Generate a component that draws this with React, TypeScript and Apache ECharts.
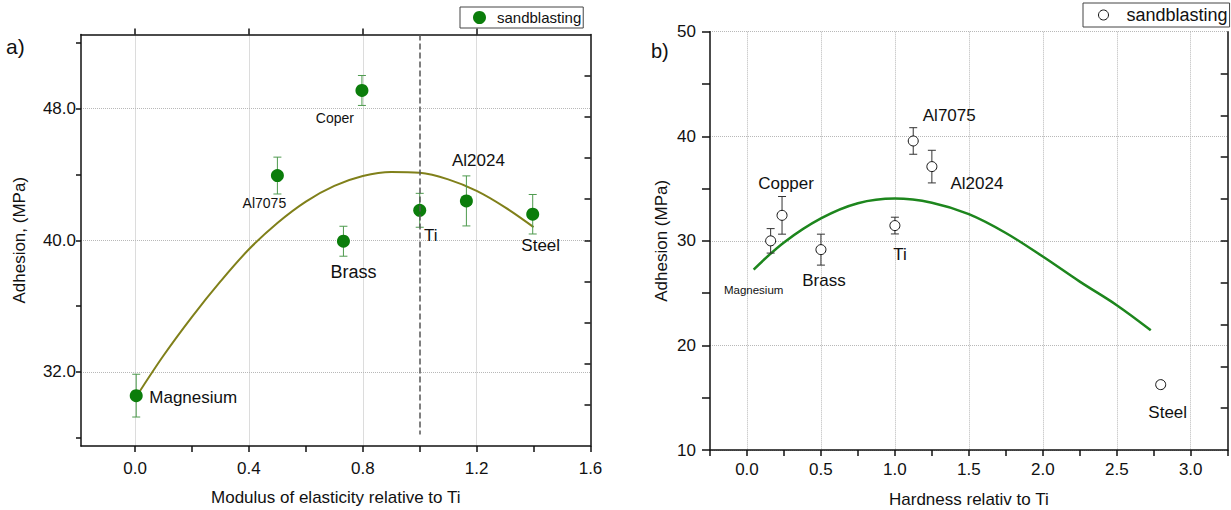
import React, { useEffect, useRef } from 'react';
import * as echarts from 'echarts';

const FONT = '"Liberation Sans", Arial, sans-serif';
const seriesName = 'sandblasting';

// ---------- Panel a) ----------
const materialsA = ['Magnesium', 'Al7075', 'Brass', 'Coper', 'Ti', 'Al2024', 'Steel'];
const modulusA = [0.004, 0.5, 0.732, 0.797, 1.0, 1.164, 1.397];
const adhesionA = [30.56, 43.93, 39.94, 49.1, 41.82, 42.39, 41.58];
const errorA = [1.3, 1.12, 0.91, 0.91, 1.03, 1.52, 1.2];
// fitted curve
const fitXA = [0.008, 0.1, 0.2, 0.3, 0.4, 0.5, 0.6, 0.7, 0.8, 0.9, 1.0, 1.1, 1.2, 1.3, 1.4];
const fitYA = [30.6, 33.0, 35.35, 37.5, 39.45, 41.05, 42.35, 43.3, 43.9, 44.15, 44.1, 43.7, 43.0, 42.0, 40.8];
const xTicksA = [0, 0.2, 0.4, 0.6, 0.8, 1.0, 1.2, 1.4, 1.6];
const xLabelsA = [0, 0.4, 0.8, 1.2, 1.6];
const xGridA = [0, 0.4, 0.8, 1.2];
const yTicksA = [28, 32, 36, 40, 44, 48, 52];
const yLabelsA = [32, 40, 48];
const yRightTicksA = [30, 32.5, 35, 37.5, 40, 42.5, 45, 47.5, 50];
const refLineA = 1.0;

// ---------- Panel b) ----------
const materialsB = ['Magnesium', 'Copper', 'Brass', 'Ti', 'Al7075', 'Al2024', 'Steel'];
const hardnessB = [0.16, 0.237, 0.5, 1.0, 1.124, 1.25, 2.797];
const adhesionB = [30.0, 32.44, 29.16, 31.46, 39.55, 37.1, 16.25];
const errorB = [1.17, 1.8, 1.48, 0.8, 1.27, 1.56, 0.3];
// fitted curve
const fitXB = [0.045, 0.25, 0.5, 0.75, 1.0, 1.25, 1.5, 1.75, 2.0, 2.25, 2.5, 2.73];
const fitYB = [27.25, 29.85, 32.15, 33.6, 34.05, 33.65, 32.55, 30.75, 28.5, 26.1, 23.85, 21.45];
const xTicksB = [-0.25, 0, 0.25, 0.5, 0.75, 1.0, 1.25, 1.5, 1.75, 2.0, 2.25, 2.5, 2.75, 3.0, 3.25];
const xLabelsB = [0, 0.5, 1.0, 1.5, 2.0, 2.5, 3.0];
const yRightTicksB = [14, 18, 22, 26, 30, 34, 38, 42, 46];

// label placement styles (offset from the point, px) – not data
const labelStyleA = [
  { dx: 57, dy: 2, size: 17 },
  { dx: -13, dy: 27, size: 14 },
  { dx: 10, dy: 31, size: 18 },
  { dx: -27, dy: 28, size: 14 },
  { dx: 11, dy: 25, size: 17 },
  { dx: 12, dy: -40, size: 17 },
  { dx: 8, dy: 31, size: 17 },
];
const labelStyleB = [
  { dx: -17, dy: 49, size: 11.5 },
  { dx: 4, dy: -32, size: 17 },
  { dx: 3, dy: 31, size: 17 },
  { dx: 5, dy: 29, size: 17 },
  { dx: 36, dy: -25, size: 17 },
  { dx: 45, dy: 17, size: 17 },
  { dx: 7, dy: 28, size: 17 },
];

const AXIS_COLOR = '#111';
const GRID_LINE = { type: 'dotted', color: '#b8b8b8', width: 1 };

function errorBarRenderer(color: string, halfCap: number) {
  return (params: any, api: any) => {
    const x = api.value(0);
    const y = api.value(1);
    const e = api.value(2);
    const top = api.coord([x, y + e]);
    const bot = api.coord([x, y - e]);
    const style = { stroke: color, lineWidth: 1 };
    return {
      type: 'group',
      children: [
        { type: 'line', shape: { x1: top[0], y1: top[1], x2: bot[0], y2: bot[1] }, style },
        { type: 'line', shape: { x1: top[0] - halfCap, y1: top[1], x2: top[0] + halfCap, y2: top[1] }, style },
        { type: 'line', shape: { x1: bot[0] - halfCap, y1: bot[1], x2: bot[0] + halfCap, y2: bot[1] }, style },
      ],
    };
  };
}

const tickLabelStyle = { fontSize: 17, color: AXIS_COLOR, fontFamily: FONT };
const nameStyle = { fontSize: 17, color: AXIS_COLOR, fontFamily: FONT };
const axisLineStyle = { show: true, onZero: false, lineStyle: { color: AXIS_COLOR, width: 1.5 } };

export default function App() {
  const ref = useRef<HTMLDivElement>(null);

  useEffect(() => {
    if (!ref.current) return;
    const chart = echarts.init(ref.current, undefined, { renderer: 'svg' });

    const option: any = {
      animation: false,
      backgroundColor: '#fff',
      textStyle: { fontFamily: FONT },
      grid: [
        { left: 81, top: 34.5, width: 509.5, height: 411.5, outerBoundsMode: 'none', containLabel: false },
        { left: 710, top: 31.7, width: 517.7, height: 418.3, outerBoundsMode: 'none', containLabel: false },
      ],
      legend: [
        {
          data: [{ name: seriesName, icon: 'circle', itemStyle: { color: '#0b7d0b' } }],
          left: 460,
          top: 7,
          itemWidth: 13,
          itemHeight: 13,
          padding: [3, 2, 3, 13],
          borderColor: '#444',
          borderWidth: 1,
          borderRadius: 0,
          selectedMode: false,
          textStyle: { fontSize: 15, lineHeight: 15, color: AXIS_COLOR, fontFamily: FONT, padding: [0, 0, 0, 6] },
        },
        {
          data: [{ name: seriesName, icon: 'circle', itemStyle: { color: '#fff', borderColor: '#111', borderWidth: 1 } }],
          left: 1083,
          top: 3,
          itemWidth: 10,
          itemHeight: 10,
          padding: [3, 2, 3, 15],
          borderColor: '#444',
          borderWidth: 1,
          borderRadius: 0,
          selectedMode: false,
          textStyle: { fontSize: 18, lineHeight: 18, color: AXIS_COLOR, fontFamily: FONT, padding: [0, 0, 0, 13] },
        },
      ],
      xAxis: [
        {
          gridIndex: 0,
          type: 'value',
          position: 'bottom',
          min: -0.19,
          max: 1.6,
          axisLine: axisLineStyle,
          axisTick: { show: true, customValues: xTicksA, length: 6, inside: false, lineStyle: { color: AXIS_COLOR, width: 1.5 } },
          axisLabel: { customValues: xLabelsA, formatter: (v: number) => v.toFixed(1), margin: 14, ...tickLabelStyle },
          splitLine: { show: false },
          name: 'Modulus of elasticity relative to Ti',
          nameLocation: 'middle',
          nameGap: 43,
          nameTextStyle: nameStyle,
        },
        {
          gridIndex: 0,
          type: 'value',
          position: 'top',
          min: -0.19,
          max: 1.6,
          axisLine: axisLineStyle,
          axisTick: { show: true, customValues: xGridA, length: 6, inside: false, lineStyle: { color: AXIS_COLOR, width: 1.5 } },
          axisLabel: { show: false },
          splitLine: { show: true, lineStyle: GRID_LINE },
        },
        {
          gridIndex: 1,
          type: 'value',
          position: 'bottom',
          min: -0.25,
          max: 3.25,
          axisLine: axisLineStyle,
          axisTick: { show: true, customValues: xTicksB, length: 6, inside: false, lineStyle: { color: AXIS_COLOR, width: 1.5 } },
          axisLabel: { customValues: xLabelsB, formatter: (v: number) => v.toFixed(1), margin: 11, ...tickLabelStyle },
          splitLine: { show: false },
          name: 'Hardness relativ to Ti',
          nameLocation: 'middle',
          nameGap: 41,
          nameTextStyle: nameStyle,
        },
        {
          gridIndex: 1,
          type: 'value',
          position: 'top',
          min: -0.25,
          max: 3.25,
          axisLine: { show: false },
          axisTick: { show: false, customValues: xLabelsB },
          axisLabel: { show: false },
          splitLine: { show: true, lineStyle: GRID_LINE },
        },
      ],
      yAxis: [
        {
          gridIndex: 0,
          type: 'value',
          position: 'left',
          min: 27.5,
          max: 52.5,
          axisLine: axisLineStyle,
          axisTick: { show: true, customValues: yTicksA, length: 5, inside: false, lineStyle: { color: AXIS_COLOR, width: 1.5 } },
          axisLabel: { customValues: yLabelsA, formatter: (v: number) => v.toFixed(1), margin: 5, ...tickLabelStyle },
          splitLine: { show: false },
          name: 'Adhesion, (MPa)',
          nameLocation: 'middle',
          nameGap: 53,
          nameRotate: 90,
          nameTextStyle: nameStyle,
        },
        {
          gridIndex: 0,
          type: 'value',
          position: 'right',
          min: 27.5,
          max: 52.5,
          axisLine: axisLineStyle,
          axisTick: { show: true, customValues: yRightTicksA, length: 6, inside: true, lineStyle: { color: AXIS_COLOR, width: 1.5 } },
          axisLabel: { show: false },
          splitLine: { show: false },
        },
        {
          gridIndex: 0,
          type: 'value',
          position: 'left',
          min: 27.5,
          max: 52.5,
          axisLine: { show: false },
          axisTick: { show: false, customValues: yLabelsA },
          axisLabel: { show: false },
          splitLine: { show: true, lineStyle: GRID_LINE },
        },
        {
          gridIndex: 1,
          type: 'value',
          position: 'left',
          min: 10,
          max: 50,
          interval: 10,
          axisLine: axisLineStyle,
          axisTick: { show: true, length: 8, inside: false, lineStyle: { color: AXIS_COLOR, width: 1.5 } },
          minorTick: { show: true, splitNumber: 2, length: 8, lineStyle: { color: AXIS_COLOR, width: 1.5 } },
          axisLabel: { margin: 14, ...tickLabelStyle },
          splitLine: { show: true, lineStyle: GRID_LINE },
          name: 'Adhesion (MPa)',
          nameLocation: 'middle',
          nameGap: 40,
          nameRotate: 90,
          nameTextStyle: nameStyle,
        },
        {
          gridIndex: 1,
          type: 'value',
          position: 'right',
          min: 10,
          max: 50,
          axisLine: axisLineStyle,
          axisTick: { show: true, customValues: yRightTicksB, length: 7, inside: true, lineStyle: { color: AXIS_COLOR, width: 1.5 } },
          axisLabel: { show: false },
          splitLine: { show: false },
        },
      ],
      graphic: [
        { type: 'text', left: 6, top: 36, style: { text: 'a)', fontSize: 21, fill: AXIS_COLOR, fontFamily: FONT } },
        { type: 'text', left: 651, top: 41, style: { text: 'b)', fontSize: 20, fill: AXIS_COLOR, fontFamily: FONT } },
      ],
      series: [
        {
          type: 'line',
          xAxisIndex: 0,
          yAxisIndex: 0,
          data: fitXA.map((x, i) => [x, fitYA[i]]),
          smooth: 0.35,
          showSymbol: false,
          lineStyle: { color: '#80801a', width: 2 },
          z: 2,
          silent: true,
        },
        {
          type: 'custom',
          xAxisIndex: 0,
          yAxisIndex: 0,
          data: modulusA.map((x, i) => [x, adhesionA[i], errorA[i]]),
          encode: { x: 0, y: 1 },
          renderItem: errorBarRenderer('#4e9a4e', 4),
          z: 3,
          silent: true,
        },
        {
          type: 'scatter',
          name: seriesName,
          xAxisIndex: 0,
          yAxisIndex: 0,
          symbol: 'circle',
          symbolSize: 13,
          itemStyle: { color: '#0b7d0b', opacity: 1 },
          data: modulusA.map((x, i) => ({
            value: [x, adhesionA[i]],
            label: {
              show: true,
              position: 'inside',
              formatter: materialsA[i],
              offset: [labelStyleA[i].dx, labelStyleA[i].dy],
              fontSize: labelStyleA[i].size,
              color: AXIS_COLOR,
              fontFamily: FONT,
            },
          })),
          markLine: {
            silent: true,
            symbol: 'none',
            label: { show: false },
            lineStyle: { color: '#555', type: [6, 3], width: 1.5 },
            data: [[{ coord: [refLineA, 52.5] }, { coord: [refLineA, 28.2] }]],
          },
          z: 4,
        },
        {
          type: 'line',
          xAxisIndex: 2,
          yAxisIndex: 3,
          data: fitXB.map((x, i) => [x, fitYB[i]]),
          smooth: 0.35,
          showSymbol: false,
          lineStyle: { color: '#1d861d', width: 2.5 },
          z: 2,
          silent: true,
        },
        {
          type: 'custom',
          xAxisIndex: 2,
          yAxisIndex: 3,
          data: hardnessB.map((x, i) => [x, adhesionB[i], errorB[i]]),
          encode: { x: 0, y: 1 },
          renderItem: errorBarRenderer('#333', 4),
          z: 3,
          silent: true,
        },
        {
          type: 'scatter',
          name: seriesName,
          xAxisIndex: 2,
          yAxisIndex: 3,
          symbol: 'circle',
          symbolSize: 10,
          itemStyle: { color: '#fff', borderColor: '#111', borderWidth: 1, opacity: 1 },
          data: hardnessB.map((x, i) => ({
            value: [x, adhesionB[i]],
            label: {
              show: true,
              position: 'inside',
              formatter: materialsB[i],
              offset: [labelStyleB[i].dx, labelStyleB[i].dy],
              fontSize: labelStyleB[i].size,
              color: AXIS_COLOR,
              fontFamily: FONT,
            },
          })),
          z: 4,
        },
      ],
    };

    chart.setOption(option);
    return () => chart.dispose();
  }, []);

  return (
    <div
      ref={ref}
      style={{ position: 'fixed', left: 0, top: 0, width: 1231, height: 510, background: '#fff' }}
    />
  );
}
